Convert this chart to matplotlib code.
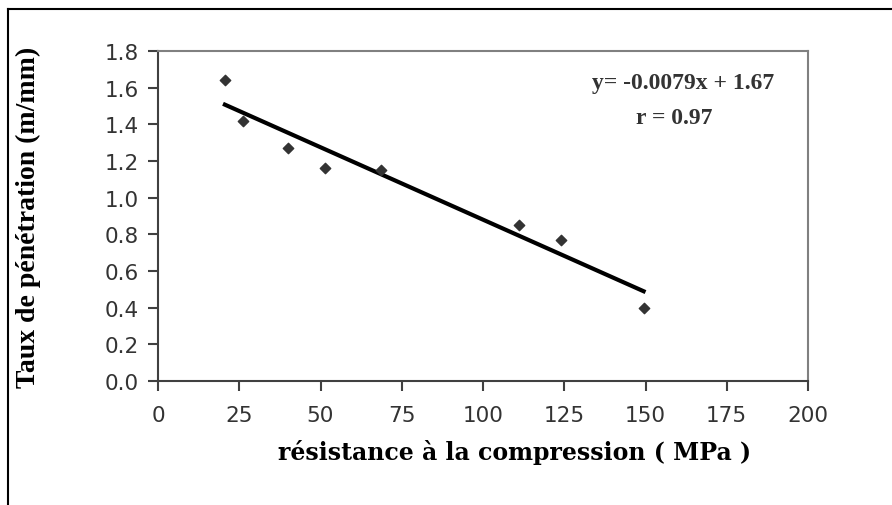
import numpy as np
import matplotlib
matplotlib.use("Agg")
import matplotlib.pyplot as plt
from matplotlib.lines import Line2D

# values
resistance = [20.5, 26, 40, 51.5, 68.5, 111, 124, 149.5]
penetration = [1.64, 1.42, 1.27, 1.16, 1.15, 0.85, 0.77, 0.40]
slope, intercept = -0.0079, 1.67
fit_range = [20, 150]
x_ticks = [0, 25, 50, 75, 100, 125, 150, 175, 200]
y_ticks = [0.0, 0.2, 0.4, 0.6, 0.8, 1.0, 1.2, 1.4, 1.6, 1.8]

fig = plt.figure(figsize=(8.92, 5.06), dpi=100)
ax = fig.add_axes([158/892, 1 - 382/506, 650/892, 330/506])

ax.scatter(resistance, penetration, marker="D", s=28, color="#333333", zorder=3)
fx = np.array(fit_range)
ax.plot(fx, slope*fx + intercept, color="black", lw=3, solid_capstyle="butt")

ax.set_xlim(0, 200)
ax.set_ylim(0, 1.8)
ax.set_xticks(x_ticks)
ax.set_yticks(y_ticks)
ax.set_yticklabels([f"{v:.1f}" for v in y_ticks])
for sp in ["left", "bottom"]:
    ax.spines[sp].set_color("#404040")
    ax.spines[sp].set_linewidth(1.5)
for sp in ["top", "right"]:
    ax.spines[sp].set_color("#808080")
    ax.spines[sp].set_linewidth(1.5)
ax.tick_params(direction="out", length=7, width=1.5, color="#404040",
               labelsize=15.5, labelcolor="#333333")
ax.tick_params(axis="x", pad=10)
ax.tick_params(axis="y", pad=7)
for lab in ax.get_xticklabels() + ax.get_yticklabels():
    lab.set_family("DejaVu Sans")

ax.set_xlabel("résistance à la compression ( MPa )", family="DejaVu Serif",
              fontweight="bold", fontsize=17)
ax.xaxis.label.set_va("center")
ax.xaxis.set_label_coords(0.549, -0.215)
ax.set_ylabel("Taux de pénétration (m/mm)", family="Liberation Serif",
              fontweight="bold", fontsize=20)
ax.yaxis.label.set_va("center")
ax.yaxis.set_label_coords(-0.2, 0.5)

ax.text(0.808, 0.905, "y= -0.0079x + 1.67", transform=ax.transAxes, ha="center",
        va="center", family="Liberation Serif", fontweight="bold", fontsize=17,
        color="#333333")
ax.text(0.795, 0.80, "r = 0.97", transform=ax.transAxes, ha="center",
        va="center", family="Liberation Serif", fontweight="bold", fontsize=17,
        color="#333333")

# outer frame (top and left edges visible)
fig.add_artist(Line2D([8/892, 1], [1 - 10/506, 1 - 10/506], color="black", lw=1.5))
fig.add_artist(Line2D([8/892, 8/892], [0, 1 - 10/506], color="black", lw=1.5))

fig.savefig("out.png", dpi=100)
